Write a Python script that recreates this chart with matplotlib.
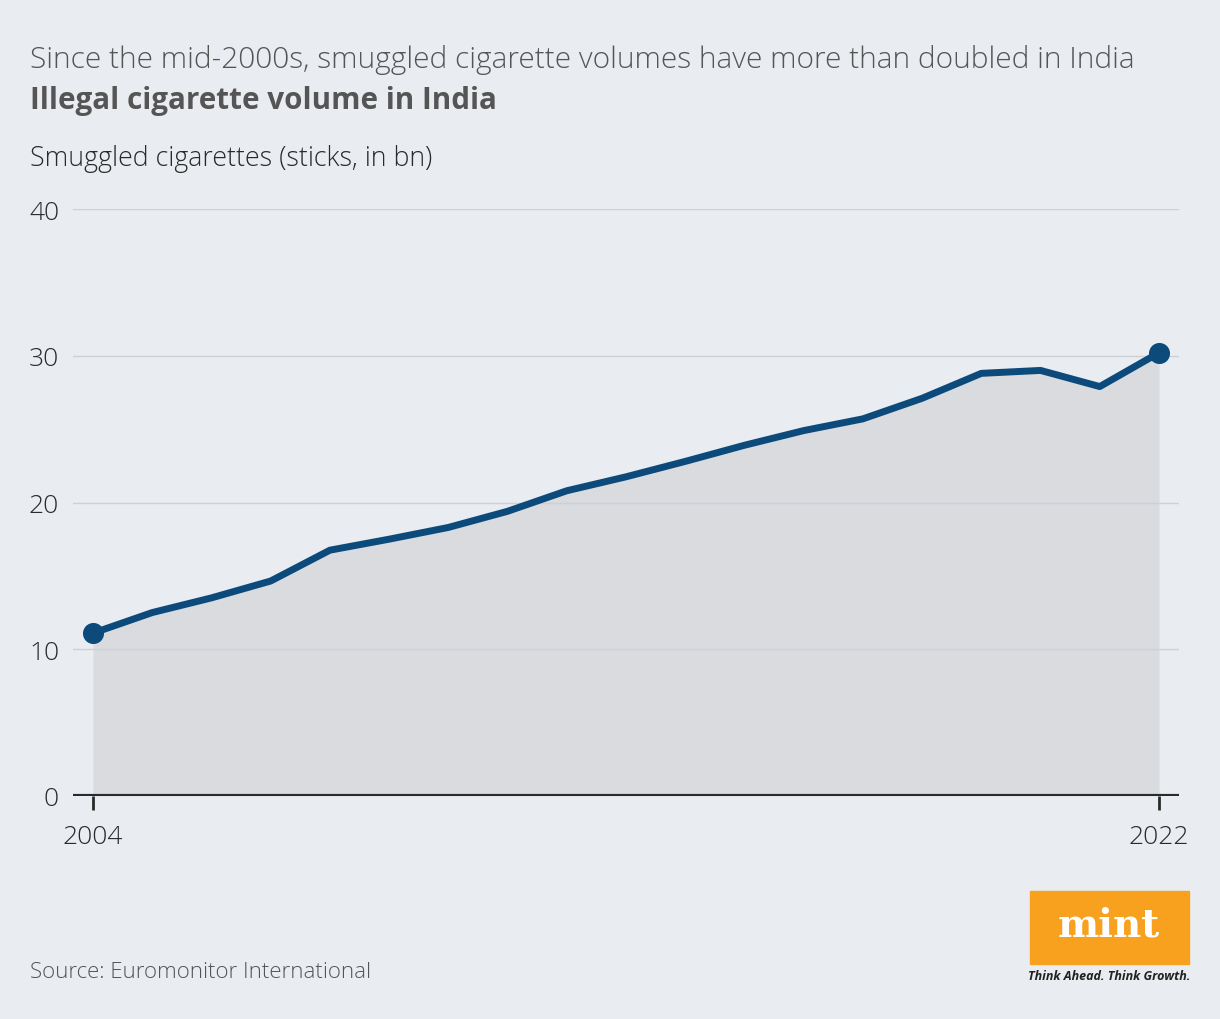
import matplotlib.pyplot as plt
from matplotlib.patches import Rectangle

# Illegal cigarette volume in India (sticks, bn)
years = [2004, 2005, 2006, 2007, 2008, 2009, 2010, 2011, 2012, 2013,
         2014, 2015, 2016, 2017, 2018, 2019, 2020, 2021, 2022]
volume = [11.1, 12.5, 13.5, 14.65, 16.75, 17.5, 18.3, 19.4, 20.8, 21.75,
          22.8, 23.9, 24.9, 25.7, 27.1, 28.8, 29.0, 27.9, 30.2]
y_ticks = [0, 10, 20, 30, 40]
x_ticks = [2004, 2022]

BG = "#e9ecf0"
FILL = "#d9dbdf"
LINE = "#0b4a7b"
TEXT = "#555555"
DARK = "#2a2a2a"

plt.rcParams["font.family"] = ["Open Sans", "DejaVu Sans"]

fig = plt.figure(figsize=(12.2, 10.2), dpi=100, facecolor=BG)
ax = fig.add_axes([73 / 1220, 1 - 797 / 1020, (1179 - 73) / 1220, (797 - 210) / 1020])
ax.set_facecolor(BG)

ax.fill_between(years, volume, 0, color=FILL, zorder=1, lw=0)
ax.plot(years, volume, color=LINE, lw=5, solid_joinstyle="round", zorder=3)
ax.scatter([years[0], years[-1]], [volume[0], volume[-1]], s=200, color=LINE, zorder=4)

ax.set_xlim(2004 - 0.338, 2022 + 0.338)
ax.set_ylim(0, 40)
ax.set_yticks(y_ticks)
ax.set_xticks(x_ticks)
ax.set_xticklabels([str(x) for x in x_ticks])
for s in ax.spines.values():
    s.set_visible(False)
ax.grid(axis="y", color="#cdd0d5", lw=1, zorder=0)
ax.axhline(0, color=DARK, lw=3, zorder=5)
ax.tick_params(axis="y", length=0, pad=10, labelsize=19, labelcolor=DARK)
ax.tick_params(axis="x", length=10, width=2, color=DARK, pad=10, labelsize=19, labelcolor=DARK)
for lbl in ax.get_yticklabels() + ax.get_xticklabels():
    lbl.set_fontweight("light")

fig.text(30 / 1220, 1 - 60 / 1020,
         "Since the mid-2000s, smuggled cigarette volumes have more than doubled in India",
         fontsize=21.5, color=TEXT, fontweight="light", va="center", ha="left")
fig.text(30 / 1220, 1 - 101 / 1020, "Illegal cigarette volume in India",
         fontsize=21.3, color=TEXT, fontweight="bold", va="center", ha="left")
fig.text(30 / 1220, 1 - 159 / 1020, "Smuggled cigarettes (sticks, in bn)",
         fontsize=19.3, color=DARK, fontweight="light", va="center", ha="left")
fig.text(30 / 1220, 1 - 973 / 1020, "Source: Euromonitor International",
         fontsize=16, color=TEXT, fontweight="light", va="center", ha="left")

# mint logo
fig.patches.append(Rectangle((1030 / 1220, 1 - 965 / 1020), 159 / 1220, 73 / 1020,
                             transform=fig.transFigure, color="#f7a11e", zorder=0))
fig.text(1109 / 1220, 1 - 926 / 1020, "mint", fontsize=28, color="white",
         fontweight="bold", family=["DejaVu Serif"], ha="center", va="center")
fig.text(1109 / 1220, 1 - 977 / 1020, "Think Ahead. Think Growth.", fontsize=9,
         color="#222222", fontweight="bold", style="italic", ha="center", va="center")

fig.savefig("out.png", dpi=100, facecolor=BG)
